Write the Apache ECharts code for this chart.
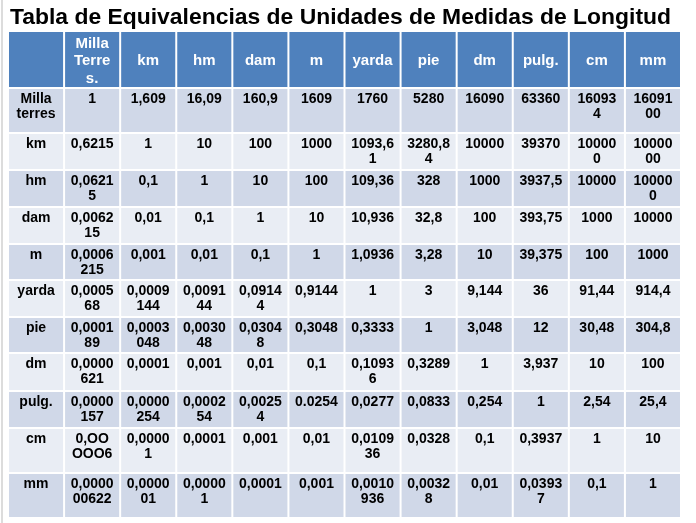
<!DOCTYPE html>
<html>
<head>
<meta charset="utf-8">
<script src="https://cdn.jsdelivr.net/npm/echarts@6/dist/echarts.min.js"></script>
<style>html,body{margin:0;padding:0;background:#fff}#c{width:696px;height:523px}</style>
</head>
<body>
<div id="c"></div>
<script>
// ---- data ----
var titleText = 'Tabla de Equivalencias de Unidades de Medidas de Longitud';
var columnUnits = ['Milla Terres.', 'km', 'hm', 'dam', 'm', 'yarda', 'pie', 'dm', 'pulg.', 'cm', 'mm'];
var rowUnits = ['Milla terres', 'km', 'hm', 'dam', 'm', 'yarda', 'pie', 'dm', 'pulg.', 'cm', 'mm'];
var rowMilla = ['1', '1,609', '16,09', '160,9', '1609', '1760', '5280', '16090', '63360', '160934', '1609100'];
var rowKm    = ['0,6215', '1', '10', '100', '1000', '1093,61', '3280,84', '10000', '39370', '100000', '1000000'];
var rowHm    = ['0,06215', '0,1', '1', '10', '100', '109,36', '328', '1000', '3937,5', '10000', '100000'];
var rowDam   = ['0,006215', '0,01', '0,1', '1', '10', '10,936', '32,8', '100', '393,75', '1000', '10000'];
var rowM     = ['0,0006215', '0,001', '0,01', '0,1', '1', '1,0936', '3,28', '10', '39,375', '100', '1000'];
var rowYarda = ['0,000568', '0,0009144', '0,009144', '0,09144', '0,9144', '1', '3', '9,144', '36', '91,44', '914,4'];
var rowPie   = ['0,000189', '0,0003048', '0,003048', '0,03048', '0,3048', '0,3333', '1', '3,048', '12', '30,48', '304,8'];
var rowDm    = ['0,0000621', '0,0001', '0,001', '0,01', '0,1', '0,10936', '0,3289', '1', '3,937', '10', '100'];
var rowPulg  = ['0,0000157', '0,0000254', '0,000254', '0,00254', '0.0254', '0,0277', '0,0833', '0,254', '1', '2,54', '25,4'];
var rowCm    = ['0,OOOOO6', '0,00001', '0,0001', '0,001', '0,01', '0,010936', '0,0328', '0,1', '0,3937', '1', '10'];
var rowMm    = ['0,000000622', '0,000001', '0,00001', '0,0001', '0,001', '0,0010936', '0,00328', '0,01', '0,03937', '0,1', '1'];
var bodyRows = [rowMilla, rowKm, rowHm, rowDam, rowM, rowYarda, rowPie, rowDm, rowPulg, rowCm, rowMm];

// ---- layout (row heights, not data) ----
var rowHeights = [57, 45, 37, 37, 37, 36, 37, 36, 38, 37, 45, 45];
var cum = [0];
for (var i = 0; i < rowHeights.length; i++) cum.push(cum[i] + rowHeights[i]);

var FAMILY = '"Liberation Sans", Arial, sans-serif';
var HEAD_FONT = 'bold 15px ' + FAMILY;
var BODY_FONT = 'bold 14px ' + FAMILY;
var WRAP_W = 43.5;

// text wrapping inside a cell, as the slide table does
var mctx = document.createElement('canvas').getContext('2d');
function tw(s, font) { mctx.font = font; return mctx.measureText(s).width; }
function breakChars(s, font, maxW, lines) {
  var line = '';
  for (var k = 0; k < s.length; k++) {
    var ch = s.charAt(k);
    if (line && tw(line + ch, font) > maxW) { lines.push(line); line = ch; }
    else line += ch;
  }
  return line;
}
function wrap(text, font, maxW, byWord) {
  var lines = [];
  if (!byWord) { var last = breakChars(text, font, maxW, lines); lines.push(last); return lines.join('\n'); }
  var words = text.split(' ');
  var line = '';
  for (var k = 0; k < words.length; k++) {
    var cand = line ? line + ' ' + words[k] : words[k];
    if (tw(cand, font) <= maxW) { line = cand; continue; }
    if (line) lines.push(line);
    line = breakChars(words[k], font, maxW, lines);
  }
  if (line) lines.push(line);
  return lines.join('\n');
}

// build cells
var cells = [];
var xCats = [''].concat(columnUnits);
for (var c = 0; c < xCats.length; c++) {
  cells.push({ value: [c, cum[0], cum[1]], text: xCats[c], kind: 'head', r: 0 });
}
for (var r = 0; r < bodyRows.length; r++) {
  cells.push({ value: [0, cum[r + 1], cum[r + 2]], text: rowUnits[r], kind: 'label', r: r + 1 });
  for (var c2 = 0; c2 < bodyRows[r].length; c2++) {
    cells.push({ value: [c2 + 1, cum[r + 1], cum[r + 2]], text: bodyRows[r][c2], kind: 'num', r: r + 1 });
  }
}

function renderItem(params, api) {
  var cell = cells[params.dataIndex];
  var c = api.value(0);
  var p0 = api.coord([c, api.value(1)]);
  var p1 = api.coord([c, api.value(2)]);
  var w = api.size([1, 0])[0];
  var x = p0[0] - w / 2;
  var y = p0[1];
  var h = p1[1] - p0[1];
  var fill = cell.kind === 'head' ? '#4F81BD' : ((cell.r % 2 === 1) ? '#D0D8E8' : '#E9EDF4');
  var textEl;
  if (cell.kind === 'head') {
    textEl = {
      type: 'text',
      style: {
        text: wrap(cell.text, HEAD_FONT, WRAP_W, true), x: p0[0], y: y + h / 2 + 1.5,
        align: 'center', verticalAlign: 'middle',
        font: HEAD_FONT, lineHeight: 17.5, fill: '#ffffff'
      }
    };
  } else {
    textEl = {
      type: 'text',
      style: {
        text: wrap(cell.text, BODY_FONT, WRAP_W, cell.kind === 'label'), x: p0[0], y: y + 4,
        align: 'center', verticalAlign: 'top',
        font: BODY_FONT, lineHeight: 15, fill: '#000000'
      }
    };
  }
  return {
    type: 'group',
    children: [
      { type: 'rect', shape: { x: x + 1, y: y + 1, width: w - 2, height: h - 2 }, style: { fill: fill } },
      textEl
    ]
  };
}

var chart = echarts.init(document.getElementById('c'), null, { renderer: 'canvas' });
chart.setOption({
  backgroundColor: '#ffffff',
  animation: false,
  title: {
    text: titleText, left: 10, top: 6, padding: 0,
    textStyle: { fontFamily: FAMILY, fontWeight: 'bold', fontSize: 22.9, color: '#000000' }
  },
  graphic: [
    { type: 'rect', shape: { x: 1, y: 0, width: 2, height: 523 }, style: { fill: '#dcdcdc' }, silent: true }
  ],
  grid: { left: 8, right: 15, top: 31, bottom: 5, containLabel: false },
  xAxis: { type: 'category', data: xCats, show: false, boundaryGap: true },
  yAxis: { type: 'value', inverse: true, min: 0, max: cum[cum.length - 1], show: false },
  series: [{
    type: 'custom',
    renderItem: renderItem,
    encode: { x: 0, y: [1, 2] },
    data: cells.map(function (d) { return d.value; })
  }]
});
</script>
</body>
</html>
